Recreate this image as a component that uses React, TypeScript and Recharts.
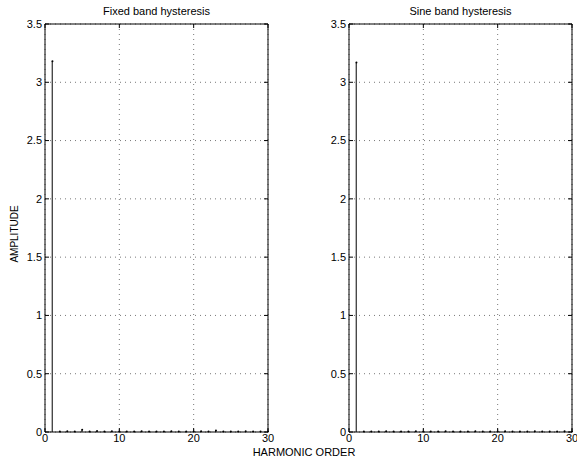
import {
  Bar,
  CartesianGrid,
  ComposedChart,
  ReferenceArea,
  Scatter,
  XAxis,
  YAxis,
} from 'recharts'

const harmonics = Array.from({ length: 30 }, (_, i) => i + 1)

const fixedBand = [
  3.18, 0.004, 0.006, 0.004, 0.02, 0.004, 0.008, 0.004, 0.006, 0.004,
  0.005, 0.004, 0.006, 0.004, 0.005, 0.004, 0.006, 0.004, 0.005, 0.004,
  0.006, 0.004, 0.012, 0.004, 0.005, 0.004, 0.006, 0.004, 0.005, 0.004,
]

const sineBand = [
  3.17, 0.004, 0.005, 0.004, 0.006, 0.004, 0.005, 0.004, 0.006, 0.004,
  0.005, 0.004, 0.006, 0.004, 0.005, 0.004, 0.006, 0.004, 0.005, 0.004,
  0.006, 0.004, 0.005, 0.004, 0.006, 0.004, 0.005, 0.004, 0.006, 0.004,
]

const xTicks = [0, 10, 20, 30]
const yTicks = [0, 0.5, 1, 1.5, 2, 2.5, 3, 3.5]

const FONT = '"Liberation Sans", Arial, Helvetica, sans-serif'
const TOP = 24
const BOTTOM = 432

type PanelProps = {
  title: string
  values: number[]
  left: number
  width: number
  yAxisWidth: number
  rightMargin: number
}

function Panel({ title, values, left, width, yAxisWidth, rightMargin }: PanelProps) {
  const data = harmonics.map((h, i) => ({ h, amp: values[i] }))
  const plotW = width - yAxisWidth - rightMargin

  // matlab style: ticks point inwards, on both sides of the box
  const xTick = (p: any) => (
    <g>
      <line x1={p.x} x2={p.x} y1={BOTTOM} y2={BOTTOM - 4} stroke="#000" />
      <line x1={p.x} x2={p.x} y1={TOP} y2={TOP + 4} stroke="#000" />
      <text
        x={p.x}
        y={BOTTOM + 2}
        dy="0.75em"
        textAnchor="middle"
        fontSize={11}
        fontFamily={FONT}
        fill="#000"
      >
        {p.payload.value}
      </text>
    </g>
  )
  const yTick = (p: any) => (
    <g>
      <line x1={yAxisWidth} x2={yAxisWidth + 4} y1={p.y} y2={p.y} stroke="#000" />
      <line
        x1={yAxisWidth + plotW}
        x2={yAxisWidth + plotW - 4}
        y1={p.y}
        y2={p.y}
        stroke="#000"
      />
      <text
        x={yAxisWidth - 3}
        y={p.y}
        dy="0.35em"
        textAnchor="end"
        fontSize={11}
        fontFamily={FONT}
        fill="#000"
      >
        {p.payload.value}
      </text>
    </g>
  )

  return (
    <div style={{ position: 'absolute', left, top: 0 }}>
      <ComposedChart
        width={width}
        height={461}
        data={data}
        margin={{ top: TOP, right: rightMargin, bottom: 9, left: 0 }}
      >
        <CartesianGrid stroke="#555" strokeDasharray="1 4" strokeWidth={0.8} />
        <XAxis
          type="number"
          dataKey="h"
          domain={[0, 30]}
          ticks={xTicks}
          interval={0}
          height={461 - BOTTOM - 9}
          axisLine={false}
          tickLine={false}
          tickSize={0}
          tick={xTick}
        />
        <YAxis
          type="number"
          domain={[0, 3.5]}
          ticks={yTicks}
          interval={0}
          width={yAxisWidth}
          axisLine={false}
          tickLine={false}
          tickSize={0}
          tick={yTick}
        />
        <ReferenceArea
          x1={0}
          x2={30}
          y1={0}
          y2={3.5}
          fill="none"
          fillOpacity={0}
          stroke="#000"
          strokeWidth={1}
          strokeOpacity={1}
        />
        <Bar dataKey="amp" barSize={1} fill="#000" isAnimationActive={false} />
        <Scatter
          dataKey="amp"
          fill="#000"
          isAnimationActive={false}
          shape={(p: any) => <circle cx={p.cx} cy={p.cy} r={1} fill="#000" />}
        />
      </ComposedChart>
      <div
        style={{
          position: 'absolute',
          top: 5,
          left: yAxisWidth,
          width: plotW,
          textAlign: 'center',
          fontFamily: FONT,
          fontSize: 11,
        }}
      >
        {title}
      </div>
    </div>
  )
}

export default function App() {
  return (
    <div
      style={{
        position: 'absolute',
        left: 0,
        top: 0,
        width: 577,
        height: 461,
        background: '#fff',
        overflow: 'hidden',
      }}
    >
      <Panel
        title="Fixed band hysteresis"
        values={fixedBand}
        left={0}
        width={290}
        yAxisWidth={45}
        rightMargin={22}
      />
      <Panel
        title="Sine band hysteresis"
        values={sineBand}
        left={290}
        width={287}
        yAxisWidth={59}
        rightMargin={5}
      />
      <div
        style={{
          position: 'absolute',
          left: 14,
          top: 234,
          transform: 'translate(-50%, -50%) rotate(-90deg)',
          fontFamily: FONT,
          fontSize: 10,
          whiteSpace: 'nowrap',
        }}
      >
        AMPLITUDE
      </div>
      <div
        style={{
          position: 'absolute',
          left: 304,
          top: 446,
          transform: 'translateX(-50%)',
          fontFamily: FONT,
          fontSize: 11,
          whiteSpace: 'nowrap',
        }}
      >
        HARMONIC ORDER
      </div>
    </div>
  )
}
